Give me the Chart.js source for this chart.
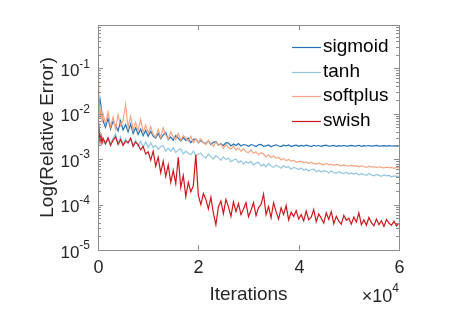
<!DOCTYPE html>
<html>
<head>
<meta charset="utf-8">
<script src="https://cdn.jsdelivr.net/npm/chart.js@4/dist/chart.umd.min.js"></script>
<style>
  html, body { margin: 0; padding: 0; background: #fff; }
  canvas { display: block; }
</style>
</head>
<body>
<canvas id="myChart" width="461" height="324"></canvas>
<script>
// iterations (x values)
const iterations = [
  0, 200, 400, 600, 800, 1000,
  1500, 2000, 2500, 3000, 3500, 4000, 4500, 5000, 5500, 6000, 6500, 7000, 7500, 8000, 8500, 9000, 9500, 10000,
  10500, 11000, 11500, 12000, 12500, 13000, 13500, 14000, 14500, 15000, 15500, 16000, 16500, 17000, 17500, 18000, 18500, 19000, 19500, 20000,
  20500, 21000, 21500, 22000, 22500, 23000, 23500, 24000, 24500, 25000, 25500, 26000, 26500, 27000, 27500, 28000, 28500, 29000, 29500, 30000,
  30500, 31000, 31500, 32000, 32500, 33000, 33500, 34000, 34500, 35000, 35500, 36000, 36500, 37000, 37500, 38000, 38500, 39000, 39500, 40000,
  40500, 41000, 41500, 42000, 42500, 43000, 43500, 44000, 44500, 45000, 45500, 46000, 46500, 47000, 47500, 48000, 48500, 49000, 49500, 50000,
  50500, 51000, 51500, 52000, 52500, 53000, 53500, 54000, 54500, 55000, 55500, 56000, 56500, 57000, 57500, 58000, 58500, 59000, 59500, 60000
];

// relative error per activation
const sigmoid = [
  6.0e-3, 1.4e-2, 2.1e-2, 1.5e-2, 1.0e-2, 7.0e-3,
  5.0e-3, 8.0e-3, 4.6e-3, 6.8e-3, 5.6e-3, 4.2e-3, 7.0e-3, 4.4e-3, 5.8e-3, 4.0e-3, 5.9e-3, 3.7e-3, 4.9e-3, 3.5e-3, 4.6e-3, 3.3e-3, 4.3e-3, 3.2e-3,
  4.1e-3, 3.2e-3, 2.9e-3, 3.7e-3, 2.8e-3, 3.4e-3, 3.9e-3, 2.7e-3, 3.1e-3, 2.6e-3, 3.3e-3, 2.9e-3, 2.5e-3, 3.0e-3, 2.6e-3, 2.9e-3, 2.3e-3, 2.7e-3, 2.8e-3, 2.3e-3,
  2.6e-3, 2.3e-3, 2.2e-3, 2.55e-3, 2.1e-3, 2.35e-3, 2.45e-3, 2.05e-3, 2.2e-3, 2.0e-3, 2.3e-3, 2.25e-3, 1.95e-3, 2.15e-3, 2.0e-3, 2.2e-3, 1.95e-3, 2.1e-3, 2.05e-3, 1.92e-3,
  2.1e-3, 2.02e-3, 1.9e-3, 2.08e-3, 2.12e-3, 1.92e-3, 1.97e-3, 2.06e-3, 1.88e-3, 2.0e-3, 2.07e-3, 1.95e-3, 1.9e-3, 2.04e-3, 1.96e-3, 2.05e-3, 1.89e-3, 1.98e-3, 2.03e-3, 1.92e-3,
  2.0e-3, 1.93e-3, 2.03e-3, 1.97e-3, 1.9e-3, 2.02e-3, 1.95e-3, 2.0e-3, 1.91e-3, 1.98e-3, 2.04e-3, 1.93e-3, 1.96e-3, 2.01e-3, 1.92e-3, 1.99e-3, 1.94e-3, 2.0e-3, 1.93e-3, 1.97e-3,
  2.01e-3, 1.94e-3, 1.97e-3, 2.02e-3, 1.92e-3, 1.98e-3, 1.95e-3, 2.0e-3, 1.93e-3, 1.97e-3, 2.01e-3, 1.94e-3, 1.96e-3, 1.99e-3, 1.93e-3, 1.98e-3, 1.95e-3, 1.97e-3, 1.94e-3, 1.96e-3
];
const tanh = [
  9.0e-3, 5.0e-3, 3.0e-3, 3.4e-3, 2.2e-3, 2.5e-3,
  2.1e-3, 3.0e-3, 2.2e-3, 2.9e-3, 3.6e-3, 2.2e-3, 3.1e-3, 2.1e-3, 2.8e-3, 2.2e-3, 2.9e-3, 2.0e-3, 2.6e-3, 1.9e-3, 2.5e-3, 1.8e-3, 2.4e-3, 1.8e-3,
  2.3e-3, 1.8e-3, 2.0e-3, 1.65e-3, 1.9e-3, 2.0e-3, 1.5e-3, 1.75e-3, 1.5e-3, 1.8e-3, 1.4e-3, 1.6e-3, 1.7e-3, 1.3e-3, 1.5e-3, 1.35e-3, 1.25e-3, 1.5e-3, 1.2e-3, 1.3e-3,
  1.35e-3, 1.15e-3, 1.05e-3, 1.3e-3, 1.12e-3, 1.0e-3, 1.2e-3, 1.08e-3, 9.4e-4, 1.12e-3, 9.8e-4, 1.06e-3, 8.8e-4, 9.6e-4, 1.0e-3, 8.4e-4, 9.2e-4, 7.8e-4, 8.9e-4, 8.1e-4,
  8.9e-4, 7.4e-4, 8.2e-4, 8.6e-4, 7.0e-4, 7.7e-4, 6.8e-4, 8.0e-4, 7.1e-4, 6.6e-4, 7.4e-4, 6.9e-4, 6.3e-4, 7.2e-4, 6.5e-4, 6.9e-4, 6.0e-4, 6.6e-4, 6.3e-4, 5.9e-4,
  6.4e-4, 5.7e-4, 6.1e-4, 5.5e-4, 5.9e-4, 6.0e-4, 5.3e-4, 5.7e-4, 5.2e-4, 5.6e-4, 5.4e-4, 5.0e-4, 5.5e-4, 5.1e-4, 4.9e-4, 5.3e-4, 5.0e-4, 4.8e-4, 5.2e-4, 4.7e-4,
  5.0e-4, 4.7e-4, 4.9e-4, 4.5e-4, 4.8e-4, 4.6e-4, 4.4e-4, 4.8e-4, 4.5e-4, 4.3e-4, 4.6e-4, 4.4e-4, 4.2e-4, 4.5e-4, 4.3e-4, 4.4e-4, 4.1e-4, 4.3e-4, 4.2e-4, 4.2e-4
];
const softplus = [
  2.5e-1, 2.0e-2, 8.0e-3, 1.3e-2, 6.5e-3, 1.0e-2,
  6.0e-3, 1.1e-2, 5.2e-3, 8.5e-3, 4.6e-3, 9.5e-3, 5.5e-3, 7.2e-3, 1.6e-2, 5.0e-3, 8.8e-3, 4.4e-3, 6.4e-3, 4.3e-3, 7.6e-3, 3.9e-3, 5.6e-3, 3.7e-3,
  5.2e-3, 3.5e-3, 3.1e-3, 4.5e-3, 3.0e-3, 4.9e-3, 3.4e-3, 2.8e-3, 4.0e-3, 3.1e-3, 2.7e-3, 3.7e-3, 2.6e-3, 3.3e-3, 2.9e-3, 2.5e-3, 3.2e-3, 2.3e-3, 2.8e-3, 2.3e-3,
  2.8e-3, 2.3e-3, 2.1e-3, 2.6e-3, 2.2e-3, 1.9e-3, 2.4e-3, 2.0e-3, 2.15e-3, 1.75e-3, 2.1e-3, 1.8e-3, 1.65e-3, 1.95e-3, 1.6e-3, 1.75e-3, 1.5e-3, 1.7e-3, 1.45e-3, 1.4e-3,
  1.6e-3, 1.35e-3, 1.45e-3, 1.25e-3, 1.38e-3, 1.3e-3, 1.12e-3, 1.25e-3, 1.08e-3, 1.18e-3, 1.05e-3, 1.1e-3, 9.6e-4, 1.04e-3, 9.3e-4, 9.9e-4, 9.0e-4, 9.5e-4, 8.6e-4, 8.8e-4,
  9.0e-4, 8.3e-4, 8.7e-4, 8.0e-4, 8.6e-4, 8.1e-4, 7.7e-4, 8.3e-4, 7.8e-4, 7.5e-4, 8.1e-4, 7.6e-4, 7.8e-4, 7.3e-4, 7.7e-4, 7.4e-4, 7.1e-4, 7.5e-4, 7.2e-4, 7.0e-4,
  7.4e-4, 7.0e-4, 7.2e-4, 6.8e-4, 7.1e-4, 6.9e-4, 6.6e-4, 7.0e-4, 6.7e-4, 6.8e-4, 6.5e-4, 6.8e-4, 6.6e-4, 6.4e-4, 6.7e-4, 6.5e-4, 6.6e-4, 6.3e-4, 6.6e-4, 6.5e-4
];
const swish = [
  1.0e-2, 4.5e-3, 2.4e-3, 3.2e-3, 2.3e-3, 2.9e-3,
  2.2e-3, 2.9e-3, 2.0e-3, 2.6e-3, 3.1e-3, 2.1e-3, 2.7e-3, 2.0e-3, 2.5e-3, 2.3e-3, 2.9e-3, 1.9e-3, 2.4e-3, 2.1e-3, 1.6e-3, 1.9e-3, 1.3e-3, 1.45e-3,
  9.5e-4, 1.5e-3, 7.0e-4, 1.1e-3, 5.0e-4, 9.0e-4, 4.2e-4, 7.5e-4, 3.1e-4, 5.6e-4, 2.9e-4, 1.1e-3, 2.4e-4, 4.4e-4, 1.5e-4, 3.1e-4, 1.9e-4, 2.6e-4, 1.25e-3, 1.6e-4,
  1.0e-4, 1.75e-4, 1.3e-4, 8.0e-5, 1.45e-4, 6.5e-5, 3.6e-5, 9.0e-5, 1.2e-4, 6.3e-5, 1.3e-4, 9.0e-5, 5.5e-5, 1.15e-4, 7.0e-5, 1.05e-4, 6.0e-5, 8.0e-5, 1.1e-4, 5.4e-5,
  7.5e-5, 1.1e-4, 5.7e-5, 8.5e-5, 1.0e-4, 1.7e-4, 6.0e-5, 9.0e-5, 5.1e-5, 1.1e-4, 7.0e-5, 4.8e-5, 8.5e-5, 6.0e-5, 9.5e-5, 4.6e-5, 6.8e-5, 5.5e-5, 7.4e-5, 4.8e-5,
  6.0e-5, 4.4e-5, 7.2e-5, 4.6e-5, 5.3e-5, 7.8e-5, 4.2e-5, 6.2e-5, 5.0e-5, 3.9e-5, 6.6e-5, 4.7e-5, 7.0e-5, 3.8e-5, 5.5e-5, 4.3e-5, 3.7e-5, 5.8e-5, 4.5e-5, 5.0e-5,
  3.7e-5, 5.3e-5, 4.1e-5, 6.6e-5, 3.6e-5, 4.6e-5, 3.5e-5, 5.2e-5, 4.0e-5, 3.4e-5, 4.8e-5, 3.6e-5, 4.4e-5, 3.3e-5, 4.7e-5, 3.9e-5, 3.5e-5, 4.3e-5, 3.4e-5, 3.9e-5
];

const seriesNames = ["sigmoid", "tanh", "softplus", "swish"];
const seriesColors = ["#2171b5", "#92c5de", "#f4a582", "#cb181d"];

// axis ticks
const xTicks = [0, 20000, 40000, 60000];
const xTickLabels = ["0", "2", "4", "6"];
const yTicks = [1e-5, 1e-4, 1e-3, 1e-2, 1e-1];
const yTickExps = ["-5", "-4", "-3", "-2", "-1"];

const FONT = '"Liberation Sans", Arial, sans-serif';
const TEXT = "#262626";
const BOX = "#8c8c8c";

function toPoints(values) {
  return values.map((v, i) => ({ x: iterations[i], y: v }));
}

// matlab-like box, inward ticks, labels and legend
const matlabAxes = {
  id: "matlabAxes",
  afterDatasetsDraw(chart) {
    const ctx = chart.ctx;
    const a = chart.chartArea;
    const xs = chart.scales.x;
    const ys = chart.scales.y;
    ctx.save();
    ctx.strokeStyle = BOX;
    ctx.lineWidth = 1;
    ctx.strokeRect(Math.round(a.left) + 0.5, Math.round(a.top) + 0.5,
      Math.round(a.right - a.left), Math.round(a.bottom - a.top));

    ctx.fillStyle = TEXT;
    ctx.textAlign = "center";
    ctx.textBaseline = "middle";
    ctx.font = "18px " + FONT;
    ctx.beginPath();
    xTicks.forEach((v, i) => {
      const px = Math.round(xs.getPixelForValue(v)) + 0.5;
      ctx.moveTo(px, a.bottom); ctx.lineTo(px, a.bottom - 5);
      ctx.moveTo(px, a.top); ctx.lineTo(px, a.top + 5);
      ctx.fillText(xTickLabels[i], px, a.bottom + 18);
    });

    // y minor ticks
    for (let e = -5; e < 0; e++) {
      for (let m = 2; m <= 9; m++) {
        const v = m * Math.pow(10, e);
        if (v > ys.max) continue;
        const py = Math.round(ys.getPixelForValue(v)) + 0.5;
        ctx.moveTo(a.left, py); ctx.lineTo(a.left + 3, py);
        ctx.moveTo(a.right, py); ctx.lineTo(a.right - 3, py);
      }
    }
    yTicks.forEach((v) => {
      const py = Math.round(ys.getPixelForValue(v)) + 0.5;
      ctx.moveTo(a.left, py); ctx.lineTo(a.left + 5, py);
      ctx.moveTo(a.right, py); ctx.lineTo(a.right - 5, py);
    });
    ctx.stroke();

    // y tick labels 10^k
    ctx.textAlign = "right";
    yTicks.forEach((v, i) => {
      const py = ys.getPixelForValue(v);
      ctx.font = "12px " + FONT;
      const ew = ctx.measureText(yTickExps[i]).width;
      ctx.fillText(yTickExps[i], a.left - 8, py - 4);
      ctx.font = "17px " + FONT;
      ctx.fillText("10", a.left - 8 - ew, py + 3);
    });

    // axis titles
    ctx.textAlign = "center";
    ctx.font = "19px " + FONT;
    ctx.fillText("Iterations", (a.left + a.right) / 2, a.bottom + 45);
    ctx.save();
    ctx.translate(48, (a.top + a.bottom) / 2);
    ctx.rotate(-Math.PI / 2);
    ctx.fillText("Log(Relative Error)", 0, 0);
    ctx.restore();

    // x10^4 multiplier
    ctx.textAlign = "right";
    ctx.font = "12px " + FONT;
    const w4 = ctx.measureText("4").width;
    ctx.fillText("4", a.right, a.bottom + 39);
    ctx.font = "18px " + FONT;
    ctx.fillText("\u00d710", a.right - w4, a.bottom + 47);

    // legend
    ctx.textAlign = "left";
    ctx.font = "19px " + FONT;
    seriesNames.forEach((name, i) => {
      const ly = 47 + i * 24.5;
      ctx.beginPath();
      ctx.strokeStyle = seriesColors[i];
      ctx.lineWidth = 1.2;
      ctx.moveTo(292, Math.round(ly) + 0.5);
      ctx.lineTo(321, Math.round(ly) + 0.5);
      ctx.stroke();
      ctx.fillStyle = "#000";
      ctx.fillText(name, 323, ly);
    });
    ctx.restore();
  },
};

const ctx = document.getElementById("myChart").getContext("2d");
const myChart = new Chart(ctx, {
  type: "line",
  data: {
    datasets: [sigmoid, tanh, softplus, swish].map((vals, i) => ({
      label: seriesNames[i],
      data: toPoints(vals),
      borderColor: seriesColors[i],
      borderWidth: 1.2,
      pointRadius: 0,
      fill: false,
      tension: 0,
      order: 3 - i,
    })),
  },
  options: {
    responsive: false,
    animation: false,
    events: [],
    layout: { padding: { left: 98, right: 62, top: 25, bottom: 74 } },
    plugins: { legend: { display: false }, tooltip: { enabled: false } },
    scales: {
      x: { type: "linear", min: 0, max: 60000, display: false },
      y: { type: "logarithmic", min: 1e-5, max: 0.9, display: false },
    },
  },
  plugins: [matlabAxes],
});
</script>
</body>
</html>
